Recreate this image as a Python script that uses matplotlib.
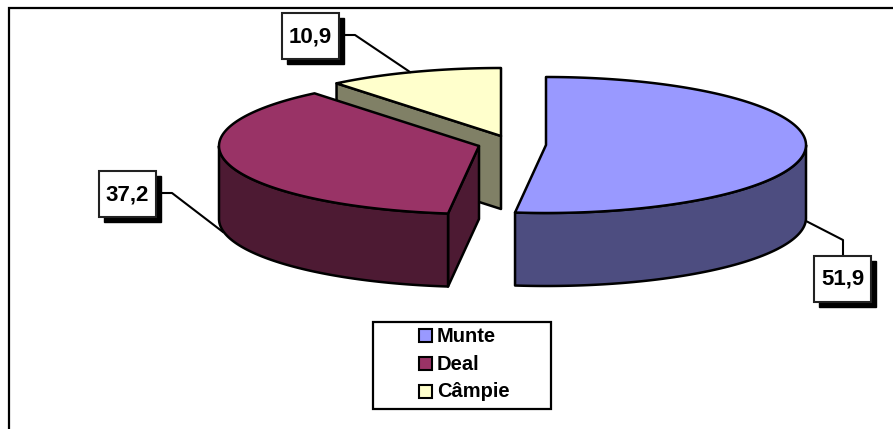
import numpy as np
import matplotlib
matplotlib.use("Agg")
import matplotlib.pyplot as plt
from matplotlib.patches import Polygon, Rectangle

plt.rcParams["font.family"] = ["Liberation Sans", "DejaVu Sans"]

categories = ["Munte", "Deal", "Câmpie"]
values = [51.9, 37.2, 10.9]
value_labels = ["51,9", "37,2", "10,9"]
top_colors = ["#9999FF", "#993366", "#FFFFCC"]
side_colors = ["#4D4D80", "#4D1A33", "#808066"]

RX, RY = 260, 68
DEPTH = 73
centers = [(546, 145), (479, 146), (501, 136)]

fig = plt.figure(figsize=(8.93, 4.29), dpi=100)
ax = fig.add_axes([0, 0, 1, 1])
ax.set_xlim(0, 893)
ax.set_ylim(429, 0)
ax.axis("off")

LW = 1.8


def rim(center, a0, a1):
    # angles clockwise from 12 o'clock, in degrees
    t = np.radians(np.linspace(a0, a1, 200))
    return np.column_stack([center[0] + RX * np.sin(t), center[1] - RY * np.cos(t)])


def poly(points, color, z):
    ax.add_patch(Polygon(points, closed=True, facecolor=color, edgecolor="black",
                         linewidth=LW, joinstyle="round", zorder=z))


# frame, the chart is cut off on the right and at the bottom
ax.plot([9, 9, 893], [429, 7.5, 7.5], color="black", lw=1.6, zorder=1,
        solid_joinstyle="miter")

angles = np.cumsum([0] + values) / 100 * 360

# Campie: only the cut face shows
cx, cy = centers[2]
a0, a1 = angles[2], angles[3]
end = rim(centers[2], a0, a0 + 0.001)[0]
poly([(cx, cy), tuple(end), (end[0], end[1] + DEPTH), (cx, cy + DEPTH)], side_colors[2], 2)
poly(np.vstack([[cx, cy], rim(centers[2], a0, a1)]), top_colors[2], 3)

# Deal
cx, cy = centers[1]
a0, a1 = angles[1], angles[2]
first = rim(centers[1], a0, a0 + 0.001)[0]
poly([(cx, cy), tuple(first), (first[0], first[1] + DEPTH), (cx, cy + DEPTH)], side_colors[1], 4)
wall = rim(centers[1], a0, 270)
poly(np.vstack([wall, (wall + [0, DEPTH])[::-1]]), side_colors[1], 5)
poly(np.vstack([[cx, cy], rim(centers[1], a0, a1)]), top_colors[1], 6)

# Munte
cx, cy = centers[0]
a0, a1 = angles[0], angles[1]
wall = rim(centers[0], 90, a1)
poly(np.vstack([wall, (wall + [0, DEPTH])[::-1]]), side_colors[0], 7)
poly(np.vstack([[cx, cy], rim(centers[0], a0, a1)]), top_colors[0], 8)

# leader lines
ax.plot([806, 843, 843], [221, 240, 258], color="black", lw=1.5, zorder=9)
ax.plot([158, 172, 223], [193, 193, 232], color="black", lw=1.5, zorder=9)
ax.plot([340, 355, 410], [35, 35, 72], color="black", lw=1.5, zorder=9)

# data label boxes
boxes = [(814, 256, 57, 46), (99, 171, 57, 46), (282, 13, 57, 46)]
for (x, y, w, h), label in zip(boxes, value_labels):
    ax.add_patch(Rectangle((x + 5, y + 5), w, h, facecolor="black", edgecolor="black", lw=1, zorder=10))
    ax.add_patch(Rectangle((x, y), w, h, facecolor="white", edgecolor="#222222", lw=1.5, zorder=11))
    ax.text(x + w / 2, y + h / 2 + 0.5, label, ha="center", va="center", fontsize=16,
            fontweight="bold", zorder=12)

# legend
ax.add_patch(Rectangle((373, 321.5), 178, 87.5, facecolor="white", edgecolor="black", lw=1.6, zorder=10))
for y, name, color in zip([335.5, 363.5, 391], categories, top_colors):
    ax.add_patch(Rectangle((418.5, y - 6.5), 13, 13, facecolor=color, edgecolor="black", lw=1.5, zorder=11))
    ax.text(437, y + 0.5, name, ha="left", va="center", fontsize=14.5, fontweight="bold", zorder=12)

fig.savefig("out.png", dpi=100)
